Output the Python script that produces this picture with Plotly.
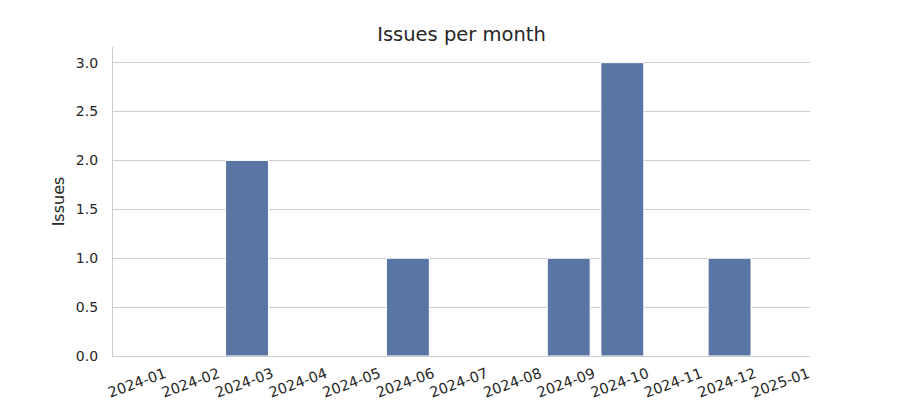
import plotly.graph_objects as go

months = ["2024-01", "2024-02", "2024-03", "2024-04", "2024-05", "2024-06", "2024-07",
          "2024-08", "2024-09", "2024-10", "2024-11", "2024-12", "2025-01"]
issues = [0, 0, 2, 0, 0, 1, 0, 0, 1, 3, 0, 1, 0]

fig = go.Figure(go.Bar(
    x=months, y=issues,
    marker=dict(color="#5875a4", line=dict(color="white", width=1)),
    width=0.8,
))

fig.update_layout(
    width=900, height=400,
    margin=dict(l=113, r=90, t=47, b=44, autoexpand=False),
    paper_bgcolor="white", plot_bgcolor="white",
    font=dict(family="DejaVu Sans", color="#262626", size=14),
    title=dict(text="Issues per month", x=0.5, xref="paper", xanchor="center",
               y=1 - 34 / 400, yanchor="middle", font=dict(size=19.5, color="#262626")),
    showlegend=False,
    bargap=0.2,
)
fig.update_xaxes(
    type="category", tickangle=-20, showgrid=False, automargin=False,
    showline=True, linecolor="#cccccc", linewidth=1.25,
    ticks="", tickfont=dict(size=14.5), ticklabelshift=25, ticklabelstandoff=3,
)
fig.update_yaxes(
    range=[0, 3.16], tickvals=[0, 0.5, 1, 1.5, 2, 2.5, 3],
    ticktext=["0.0", "0.5", "1.0", "1.5", "2.0", "2.5", "3.0"],
    showgrid=True, gridcolor="#cccccc", gridwidth=1, automargin=False,
    showline=True, linecolor="#cccccc", linewidth=1.25, zeroline=False,
    ticks="", tickfont=dict(size=14), ticklabelstandoff=11,
    title=dict(text="Issues", font=dict(size=16), standoff=7),
)

fig.write_html("out.html")
